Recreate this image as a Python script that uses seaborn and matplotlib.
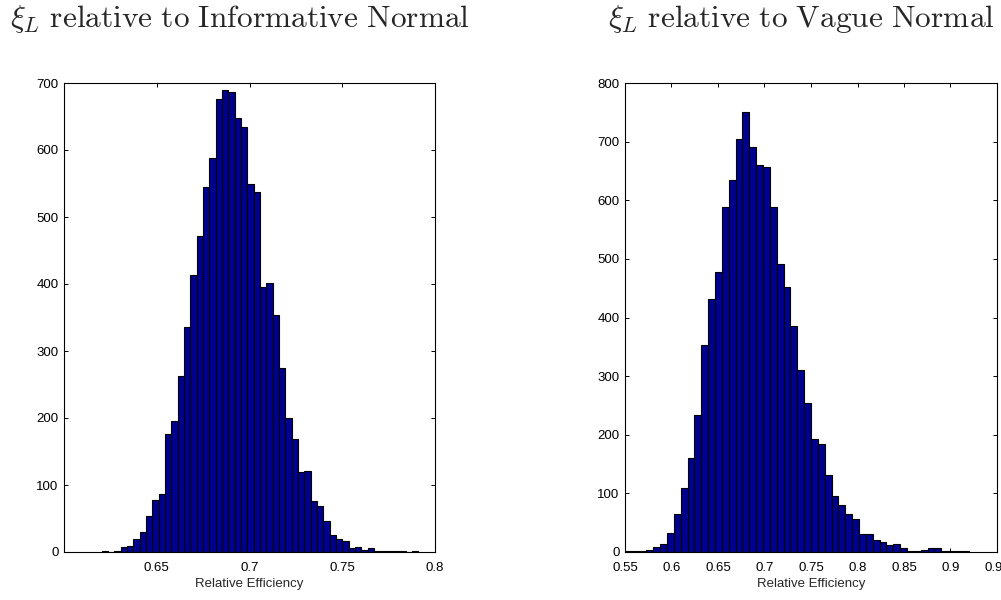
import numpy as np
import pandas as pd
import matplotlib
matplotlib.use("Agg")
import matplotlib.pyplot as plt
import seaborn as sns

# ---------------- data ----------------
left_title = r"$\xi_L\ \mathrm{relative\ to\ Informative\ Normal}$"
right_title = r"$\xi_L\ \mathrm{relative\ to\ Vague\ Normal}$"
xlabel = "Relative Efficiency"

# left histogram: 50 bins between min and max of the sample
left_range = (0.6203, 0.7910)
left_counts = [1, 0, 2, 7, 9, 20, 30, 54, 78, 87,
               176, 195, 262, 336, 413, 472, 545, 588, 676, 690,
               686, 648, 634, 550, 538, 395, 401, 353, 275, 200,
               168, 119, 121, 76, 68, 46, 26, 20, 17, 6,
               7, 3, 6, 2, 2, 2, 1, 1, 0, 2]
left_xticks = [0.65, 0.7, 0.75, 0.8]
left_xticklabels = ["0.65", "0.7", "0.75", "0.8"]
left_yticks = [0, 100, 200, 300, 400, 500, 600, 700]
left_xlim = (0.6, 0.8)
left_ylim = (0, 700)

# right histogram
right_range = (0.5510, 0.9196)
right_counts = [2, 1, 1, 4, 8, 13, 32, 64, 109, 161,
                234, 353, 431, 477, 589, 634, 704, 751, 690, 660,
                657, 588, 491, 452, 385, 311, 255, 193, 185, 131,
                95, 81, 65, 57, 31, 30, 20, 17, 12, 14,
                7, 1, 1, 4, 6, 6, 1, 1, 1, 2]
right_xticks = [0.55, 0.6, 0.65, 0.7, 0.75, 0.8, 0.85, 0.9, 0.95]
right_xticklabels = ["0.55", "0.6", "0.65", "0.7", "0.75", "0.8", "0.85", "0.9", "0.95"]
right_yticks = [0, 100, 200, 300, 400, 500, 600, 700, 800]
right_xlim = (0.55, 0.95)
right_ylim = (0, 800)

bar_color = "#00008F"

# ---------------- style ----------------
sns.set_style("ticks")
plt.rcParams["font.family"] = ["Liberation Sans", "DejaVu Sans"]
plt.rcParams["mathtext.fontset"] = "cm"

fig = plt.figure(figsize=(10.01, 6.0), dpi=100)
axL = fig.add_axes([64 / 1001, 1 - 552 / 600, 371 / 1001, 469 / 600])
axR = fig.add_axes([625 / 1001, 1 - 552 / 600, 372 / 1001, 469 / 600])


def draw(ax, rng, counts, xticks, xticklabels, yticks, xlim, ylim):
    n = len(counts)
    edges = np.linspace(rng[0], rng[1], n + 1)
    centers = (edges[:-1] + edges[1:]) / 2
    df = pd.DataFrame({"value": centers, "count": np.asarray(counts, float)})
    sns.histplot(data=df, x="value", weights="count", bins=n, binrange=rng,
                 ax=ax, color=bar_color, alpha=1.0, edgecolor="black",
                 linewidth=0.8, stat="count")
    ax.set_xlim(*xlim)
    ax.set_ylim(*ylim)
    ax.set_xticks(xticks)
    ax.set_xticklabels(xticklabels)
    ax.set_yticks(yticks)
    ax.set_ylabel("")
    ax.set_xlabel(xlabel, fontsize=9.5, labelpad=3)
    ax.tick_params(direction="in", top=True, right=True, length=3,
                   width=0.7, labelsize=9.5, colors="black")
    ax.tick_params(axis="x", pad=7)
    ax.tick_params(axis="y", pad=4)
    for s in ax.spines.values():
        s.set_visible(True)
        s.set_linewidth(0.8)
        s.set_color("black")


draw(axL, left_range, left_counts, left_xticks, left_xticklabels,
     left_yticks, left_xlim, left_ylim)
draw(axR, right_range, right_counts, right_xticks, right_xticklabels,
     right_yticks, right_xlim, right_ylim)

fig.text(240 / 1001, 1 - 27 / 600, left_title, ha="center", va="baseline", fontsize=22.6)
fig.text(801 / 1001, 1 - 27 / 600, right_title, ha="center", va="baseline", fontsize=22.6)

fig.savefig("out.png", dpi=100)
